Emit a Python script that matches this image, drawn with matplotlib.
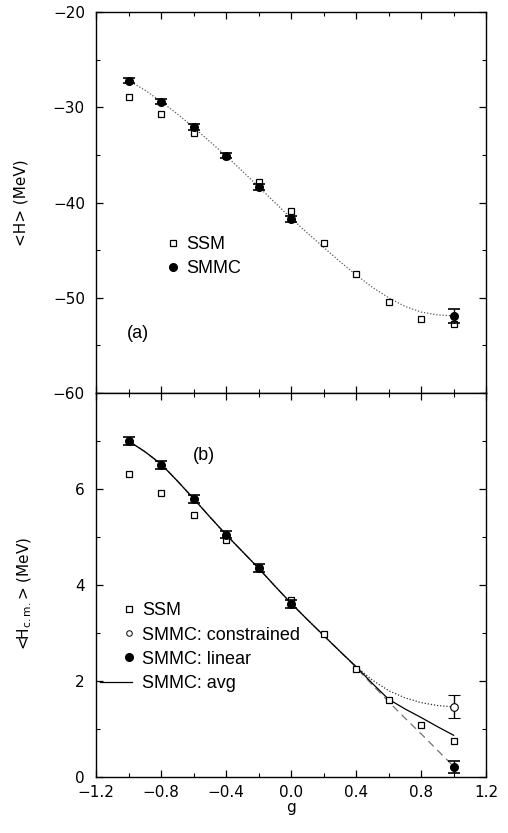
import numpy as np
import matplotlib
matplotlib.use("Agg")
import matplotlib.pyplot as plt
from matplotlib.ticker import MultipleLocator
from matplotlib.legend_handler import HandlerLine2D

plt.rcParams['font.family'] = ['DejaVu Sans']
plt.rcParams['mathtext.fontset'] = 'dejavusans'

# ---- panel (a) data ----
g_ssm = [-1.0, -0.8, -0.6, -0.4, -0.2, 0.0, 0.2, 0.4, 0.6, 0.8, 1.0]
h_ssm = [-28.96, -30.71, -32.74, -35.08, -37.88, -40.93, -44.29, -47.54, -50.41, -52.26, -52.76]

g_smmc = [-1.0, -0.8, -0.6, -0.4, -0.2, 0.0, 1.0]
h_smmc = [-27.2, -29.4, -32.07, -35.08, -38.4, -41.73, -51.9]
h_smmc_err = [0.25, 0.3, 0.3, 0.3, 0.33, 0.3, 0.74]

g_curve = [-1.0, -0.9, -0.8, -0.7, -0.6, -0.5, -0.4, -0.3, -0.2, -0.1, 0.0,
           0.1, 0.2, 0.3, 0.4, 0.5, 0.6, 0.7, 0.8, 0.9, 1.0]
h_curve = [-27.2, -28.2, -29.4, -30.7, -32.1, -33.6, -35.1, -36.7, -38.35, -40.0, -41.65,
           -43.2, -44.7, -46.2, -47.6, -48.9, -50.0, -50.9, -51.5, -51.8, -51.9]

# ---- panel (b) data ----
hcm_ssm = [6.32, 5.91, 5.46, 4.93, 4.35, 3.69, 2.97, 2.25, 1.61, 1.09, 0.75]

hcm_lin = [7.0, 6.5, 5.79, 5.05, 4.35, 3.61, 0.21]
hcm_lin_err = [0.08, 0.08, 0.08, 0.08, 0.08, 0.08, 0.13]

g_con = [1.0]
hcm_con = [1.46]
hcm_con_err = [0.24]

hcm_avg = [7.0, 6.78, 6.52, 6.17, 5.8, 5.42, 5.05, 4.7, 4.35, 3.98, 3.62,
           3.28, 2.95, 2.62, 2.3, 1.95, 1.62, 1.42, 1.24, 1.05, 0.87]
hcm_con_curve = [7.0, 6.78, 6.52, 6.17, 5.8, 5.42, 5.05, 4.7, 4.35, 3.98, 3.62,
                 3.28, 2.95, 2.62, 2.3, 2.02, 1.8, 1.65, 1.55, 1.49, 1.46]
hcm_lin_curve = [7.0, 6.78, 6.52, 6.17, 5.8, 5.42, 5.05, 4.7, 4.35, 3.98, 3.62,
                 3.28, 2.95, 2.62, 2.28, 1.92, 1.57, 1.23, 0.9, 0.56, 0.22]


class RightMarker(HandlerLine2D):
    # legend symbol sits at the right end of the handle, like the original
    def create_artists(self, legend, orig_handle, xdescent, ydescent, width, height,
                       fontsize, trans):
        artists = super().create_artists(legend, orig_handle, xdescent, ydescent,
                                         width, height, fontsize, trans)
        for a in artists:
            x = list(a.get_xdata())
            if len(x) == 3:
                a.set_xdata([x[0], x[2] - 2.2, x[2]])
        return artists


leg_font = dict(family=['Liberation Sans', 'DejaVu Sans'], size=13)

fig = plt.figure(figsize=(5.08, 8.33), dpi=100)
ax1 = fig.add_axes([0.189, 0.5282, 0.768, 0.4574])
ax2 = fig.add_axes([0.189, 0.0672, 0.768, 0.461])

sq = dict(marker='s', ms=4.2, mfc='white', mec='black', mew=0.9, ls='none')
dot = dict(marker='o', ms=5.5, color='black', ls='none')

# panel (a)
ax1.plot(g_curve, h_curve, ls=(0, (1, 1.5)), color='0.35', lw=0.9)
ax1.plot(g_ssm, h_ssm, **sq)
ax1.errorbar(g_smmc, h_smmc, yerr=h_smmc_err, fmt='o', ms=5.5, color='black',
             capsize=4.5, elinewidth=1.0, capthick=1.2)
a_ssm, = ax1.plot([], [], **sq)
a_smmc, = ax1.plot([], [], **dot)
ax1.set_xlim(-1.2, 1.2)
ax1.set_ylim(-60, -20)
ax1.yaxis.set_major_locator(MultipleLocator(10))
ax1.yaxis.set_minor_locator(MultipleLocator(5))
ax1.set_ylabel('<H> (MeV)', fontsize=11)
ax1.yaxis.set_label_coords(-0.172, 0.5)
ax1.text(0.08, 0.145, '(a)', transform=ax1.transAxes, va='baseline', fontdict=leg_font)
ax1.legend([a_ssm, a_smmc], ['SSM', 'SMMC'],
           loc='upper left', bbox_to_anchor=(0.184, 0.412), frameon=False, prop=leg_font,
           handlelength=0.6, handletextpad=0.42, labelspacing=0.4, borderaxespad=0,
           borderpad=0)
ax1.tick_params(labelbottom=False)

# panel (b)
ax2.plot(g_curve, hcm_con_curve, ls=(0, (1, 1.5)), color='0.2', lw=0.9)
ax2.plot(g_curve, hcm_lin_curve, ls=(0, (6, 4)), color='0.45', lw=0.9)
ax2.plot(g_curve, hcm_avg, ls='-', color='black', lw=0.9)
ax2.plot(g_ssm, hcm_ssm, **sq)
ax2.errorbar(g_smmc, hcm_lin, yerr=hcm_lin_err, fmt='o', ms=5.5, color='black',
             capsize=4.5, elinewidth=1.0, capthick=1.2)
ax2.errorbar(g_con, hcm_con, yerr=hcm_con_err, fmt='o', ms=5.5, mfc='white', mec='black',
             color='black', capsize=4.5, elinewidth=1.0, capthick=1.0, mew=0.8)
b_ssm, = ax2.plot([], [], **sq)
b_con, = ax2.plot([], [], marker='o', ms=4, mfc='white', mec='black', mew=0.7, ls='none')
b_lin, = ax2.plot([], [], **dot)
b_avg, = ax2.plot([], [], ls='-', color='black', lw=0.9)
ax2.legend([b_ssm, b_con, b_lin, b_avg],
           ['SSM', 'SMMC: constrained', 'SMMC: linear', 'SMMC: avg'],
           handler_map={matplotlib.lines.Line2D: RightMarker()},
           loc='upper left', bbox_to_anchor=(0.01, 0.455), frameon=False, prop=leg_font,
           handlelength=1.77, handletextpad=0.55, labelspacing=0.4, borderaxespad=0,
           borderpad=0)
ax2.set_xlim(-1.2, 1.2)
ax2.set_ylim(0, 8)
ax2.yaxis.set_minor_locator(MultipleLocator(1))
ax2.set_yticks([0, 2, 4, 6])
ax2.set_ylabel(r'<H$_{\mathregular{c.m.}}$> (MeV)', fontsize=11)
ax2.yaxis.set_label_coords(-0.159, 0.479)
ax2.set_xlabel('g', fontsize=11, labelpad=0)
ax2.text(0.249, 0.826, '(b)', transform=ax2.transAxes, va='baseline', fontdict=leg_font)

for ax in (ax1, ax2):
    ax.xaxis.set_major_locator(MultipleLocator(0.4))
    ax.xaxis.set_minor_locator(MultipleLocator(0.2))
    ax.tick_params(which='both', direction='in', top=True, right=True, labelsize=11)
    ax.tick_params(axis='y', which='major', pad=8)
    ax.tick_params(axis='x', which='major', pad=6)
    ax.tick_params(which='major', length=5, width=0.9)
    ax.tick_params(which='minor', length=3, width=0.8)
    for s in ax.spines.values():
        s.set_linewidth(1.0)

fig.savefig('out.png', dpi=100)
